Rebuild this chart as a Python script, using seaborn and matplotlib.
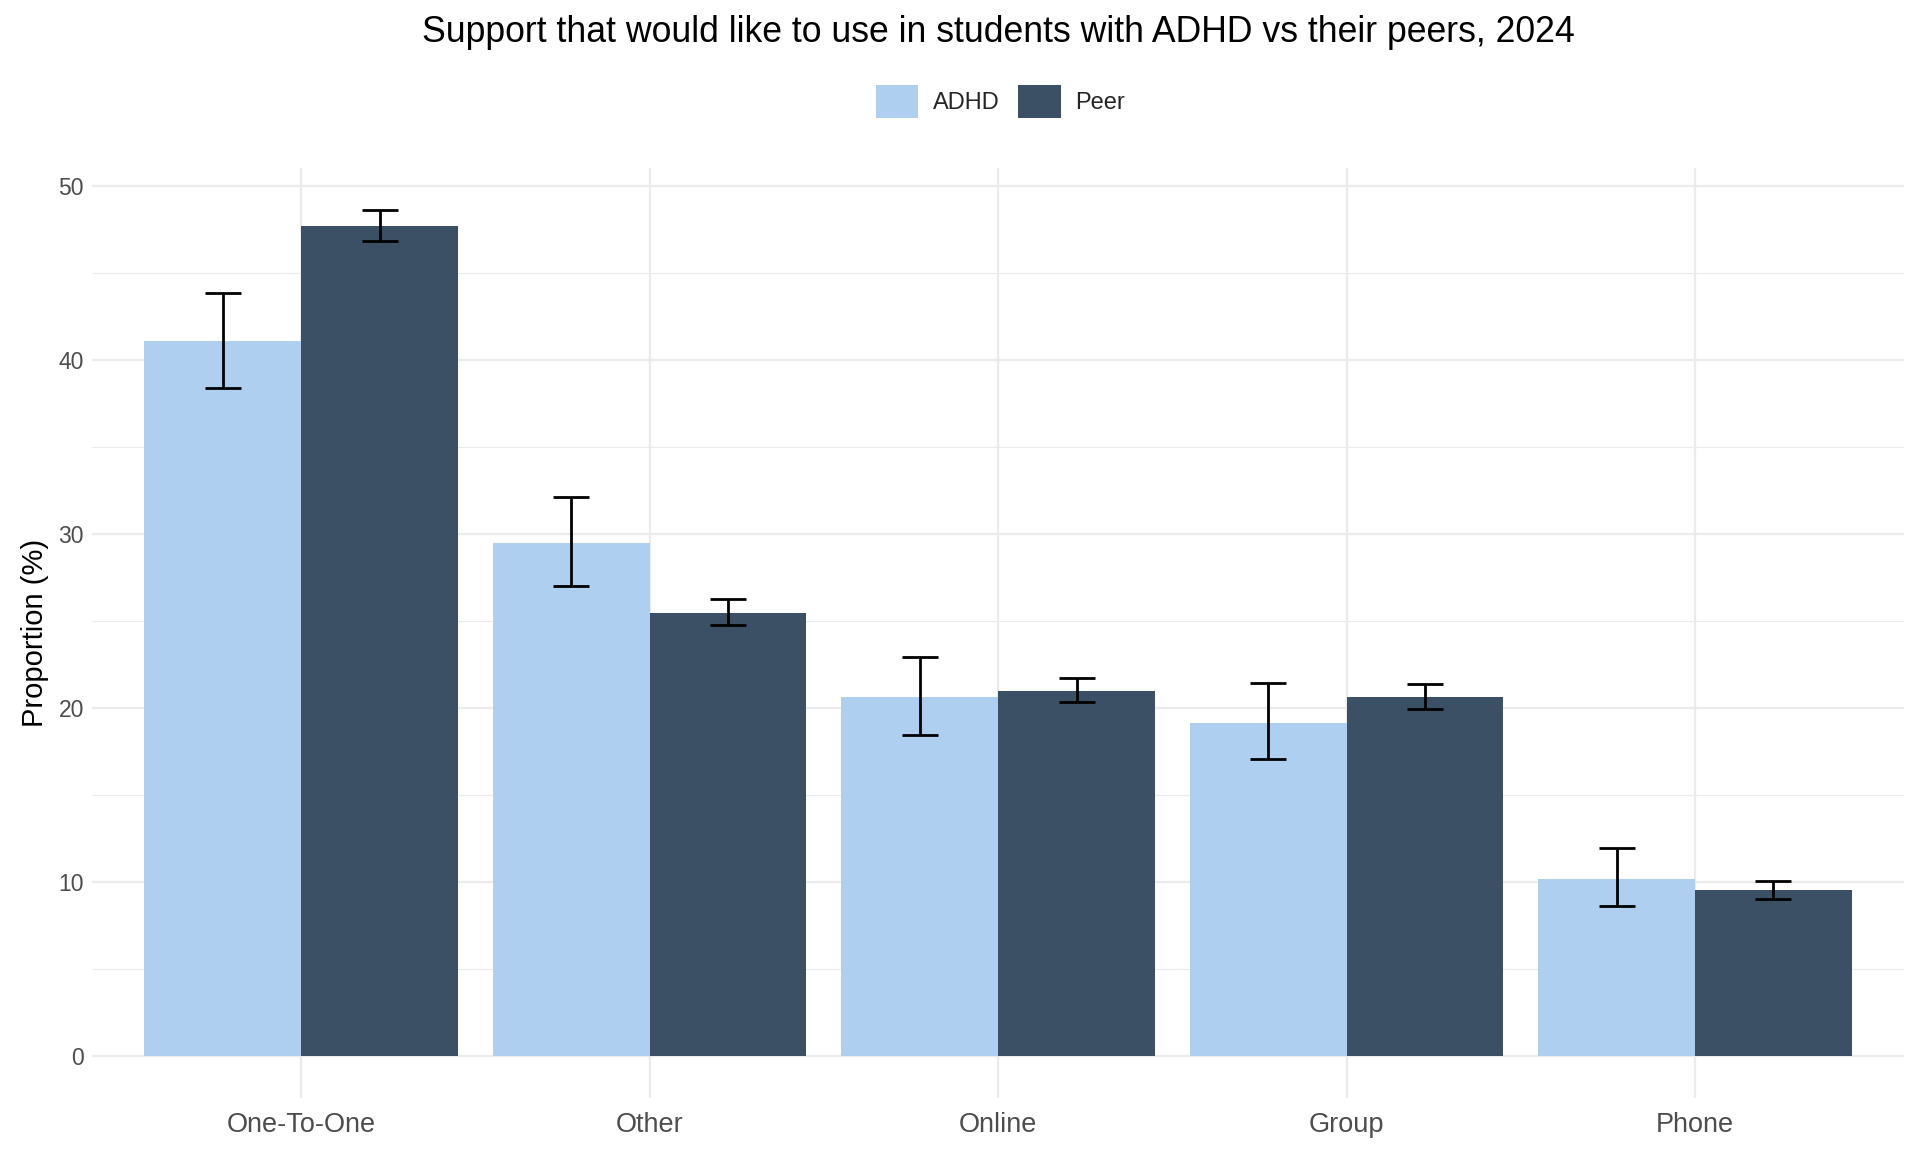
import matplotlib
matplotlib.use("Agg")
import matplotlib.pyplot as plt
import seaborn as sns
import pandas as pd
import numpy as np
from matplotlib.patches import Patch

categories = ["One-To-One", "Other", "Online", "Group", "Phone"]
groups = ["ADHD", "Peer"]
adhd_vals = [41.1, 29.5, 20.6, 19.15, 10.15]
adhd_lo = [38.4, 27.0, 18.45, 17.05, 8.6]
adhd_hi = [43.85, 32.1, 22.95, 21.45, 11.95]
peer_vals = [47.7, 25.45, 20.95, 20.6, 9.5]
peer_lo = [46.85, 24.75, 20.35, 19.95, 9.0]
peer_hi = [48.6, 26.25, 21.7, 21.35, 10.05]
colors = {"ADHD": "#AFCFF1", "Peer": "#3B5065"}

df = pd.DataFrame({
    "category": categories * 2,
    "group": ["ADHD"] * 5 + ["Peer"] * 5,
    "value": adhd_vals + peer_vals,
    "lo": adhd_lo + peer_lo,
    "hi": adhd_hi + peer_hi,
})

sns.set_theme(style="white")
plt.rcParams["font.family"] = ["Liberation Sans", "DejaVu Sans"]

fig = plt.figure(figsize=(19.2, 11.52), dpi=100)
ax = fig.add_axes([0.048, 0.047, 0.9437, 0.807])

sns.barplot(data=df, x="category", y="value", hue="group", order=categories,
            hue_order=groups, palette=colors, width=0.9, gap=0, errorbar=None,
            saturation=1, linewidth=0, ax=ax, legend=False, zorder=2)

# error bars
n = len(categories)
for gi, g in enumerate(groups):
    sub = df[df.group == g].set_index("category").loc[categories]
    x = np.arange(n) + (-0.225 if gi == 0 else 0.225)
    v = sub["value"].values
    err = np.vstack([v - sub["lo"].values, sub["hi"].values - v])
    ax.errorbar(x, v, yerr=err, fmt="none", ecolor="black", elinewidth=2.0,
                capsize=13, capthick=2.0, zorder=3)

ax.set_xlim(-0.6, n - 0.4)
ax.set_ylim(-2.43, 51.03)
ax.set_yticks([0, 10, 20, 30, 40, 50])
ax.set_yticks([5, 15, 25, 35, 45], minor=True)
ax.grid(axis="y", which="major", color="#EBEBEB", linewidth=1.6, zorder=0)
ax.grid(axis="y", which="minor", color="#EBEBEB", linewidth=0.8, zorder=0)
ax.grid(axis="x", which="major", color="#EBEBEB", linewidth=1.6, zorder=0)
ax.set_axisbelow(True)
for s in ax.spines.values():
    s.set_visible(False)
ax.tick_params(axis="both", which="both", length=0, colors="#4D4D4D", labelsize=16.5, pad=6)
ax.tick_params(axis="x", pad=10, labelsize=19.5)
ax.set_xlabel("")
ax.set_ylabel("Proportion (%)", fontsize=21, color="black", labelpad=7)

fig.suptitle("Support that would like to use in students with ADHD vs their peers, 2024",
             fontsize=25.7, x=0.52, y=0.987, color="black")

handles = [Patch(facecolor=colors[g], edgecolor="none", label=g) for g in groups]
fig.legend(handles=handles, loc="center", bbox_to_anchor=(0.521, 0.912), ncol=2,
           frameon=False, fontsize=17, handlelength=1.8, handleheight=1.8,
           columnspacing=0.8, handletextpad=0.6)

fig.savefig("out.png", dpi=100, facecolor="white")
